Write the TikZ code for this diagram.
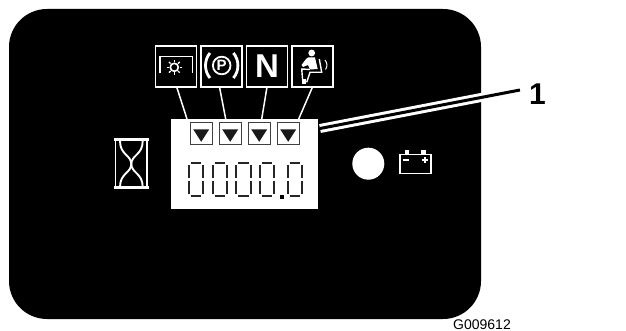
\documentclass[tikz,border=0pt]{standalone}
\usepackage{fontspec}
\setmainfont{Liberation Sans}
\usetikzlibrary{arrows.meta, positioning, calc}

\begin{document}
\begin{tikzpicture}[
            x=1pt,
            y=-1pt,
            panel/.style={
                    fill=black,
                    rounded corners=38pt
                },
            iconbox/.style={
                    draw=white,
                    line width=1.9pt,
                    fill=black,
                    minimum size=41pt,
                    inner sep=0pt,
                    outer sep=0pt,
                    text=white,
                    font=\bfseries\fontsize{33}{33}\selectfont
                },
            wire/.style={
                    draw=white,
                    line width=1.5pt
                },
            lcd/.style={
                    fill=white,
                    minimum width=147pt,
                    minimum height=90pt,
                    inner sep=0pt,
                    outer sep=0pt
                },
            flagbox/.style={
                    draw=black!75,
                    line width=1.4pt,
                    fill=white,
                    minimum size=22pt,
                    inner sep=0pt,
                    outer sep=0pt
                },
            glyph/.style={
                    draw=white,
                    line width=1.6pt
                },
            segment/.style={
                    draw=black!85,
                    line width=1.9pt
                }
        ]

        \useasboundingbox (0,0) rectangle (626,331);
        \fill[white] (0,0) rectangle (626,331);

        \node[panel, minimum width=472pt, minimum height=310pt, inner sep=0pt] (board) at (245,164) {};

        \node[lcd] (display) at (244.5,164) {};

        \node[iconbox] (work) at (176,66.5) {};
        \node[iconbox, right=4.5pt of work] (brake) {};
        \node[iconbox, right=4.5pt of brake] (neutral) {\raisebox{1.5pt}{N}};
        \node[iconbox, right=4.5pt of neutral] (seat) {};

        \node[flagbox] (flaga) at (201.2,133.8) {};
        \node[flagbox, right=7pt of flaga] (flagb) {};
        \node[flagbox, right=7pt of flagb] (flagc) {};
        \node[flagbox, right=7pt of flagc] (flagd) {};

        \foreach \flag in {flaga, flagb, flagc, flagd} {
                \fill[black!90] ([shift={(-8pt,4.5pt)}]\flag.center) -- ([shift={(8pt,4.5pt)}]\flag.center) -- ([shift={(0pt,-8pt)}]\flag.center) -- cycle;
            }

        \draw[wire] ([xshift=0.7pt]work.south) -- ([xshift=16pt]display.north west);
        \draw[wire] ([xshift=-2pt]brake.south) -- ([xshift=54.7pt]display.north west);
        \draw[wire] (neutral.south) -- ([xshift=90.7pt]display.north west);
        \draw[wire] (seat.south) -- ([xshift=127.7pt]display.north west);

        \foreach \digitx in {187.7, 211.7, 235.3, 258.7, 286.7} {
                \draw[segment] (\digitx+3,162.7) -- (\digitx+13.6,162.7);
                \draw[segment] (\digitx+3,196.3) -- (\digitx+13.6,196.3);
                \draw[segment] (\digitx+1,165) -- (\digitx+1,178);
                \draw[segment] (\digitx+1,181) -- (\digitx+1,194);
                \draw[segment] (\digitx+15.6,165) -- (\digitx+15.6,178);
                \draw[segment] (\digitx+15.6,181) -- (\digitx+15.6,194);
            }
        \fill[black] (280,195) rectangle (284,199);

        \draw[glyph] (160,73.5) -- (160,56.7) -- (192.3,56.7) -- (192.3,73.5);
        \draw[glyph] (174.3,67.3) circle (4);
        \foreach \ang in {0,45,...,315} {
                \draw[white, line width=1.3pt] ($(174.3,67.3)+(\ang:5.2)$) -- ($(174.3,67.3)+(\ang:7.6)$);
            }

        \draw[white, line width=1.8pt] (221.7,65.5) circle (8.8);
        \node[text=white, font=\bfseries\fontsize{15}{15}\selectfont, inner sep=0pt] (parkp) at (221.7,65.5) {P};
        \draw[white, line width=2.8pt] (210,53) .. controls (204,60) and (204,71) .. (210,78);
        \draw[white, line width=2.8pt] (233.4,53) .. controls (239.4,60) and (239.4,71) .. (233.4,78);

        \fill[white] (311.7,53) circle (3.4);
        \fill[white] (306,59) -- (308,57.5) -- (315,57.5) -- (317.7,69) -- (310,69.5) -- (308,65) -- (303,67) -- (301.5,65) -- cycle;
        \draw[white, line width=1.4pt] (319.3,59) -- (321.7,72.3) -- (310,72.3) -- (306.7,82.3);
        \draw[white, line width=1.4pt] (310,69.5) -- (301.7,69) -- (302.7,80.7);
        \fill[white] (301.5,79) rectangle (306,84);
        \draw[white, line width=1pt] (325,60) .. controls (327.5,63) and (327.5,67) .. (325.5,69.5);

        \node[inner sep=0pt, outer sep=0pt, minimum size=0pt] (hourglass) at (131.3,164) {};
        \draw[white, line width=3pt] (114,140) -- (148.7,140);
        \draw[white, line width=3pt] (114,188) -- (148.7,188);
        \draw[white, line width=1.4pt] (115.7,140) -- (115.7,188);
        \draw[white, line width=1.4pt] (147,140) -- (147,188);
        \draw[white, line width=1.9pt] (120,141) .. controls (120,155) and (131.3,155) .. (131.3,164) .. controls (131.3,173) and (120,173) .. (120,187);
        \draw[white, line width=1.9pt] (142.7,141) .. controls (142.7,155) and (131.3,155) .. (131.3,164) .. controls (131.3,173) and (142.7,173) .. (142.7,187);

        \node[circle, fill=white, minimum size=32pt, inner sep=0pt] (lamp) at (368.3,163.7) {};

        \node[draw=white, line width=1.5pt, fill=black, minimum width=31pt, minimum height=19pt, inner sep=0pt] (battery) at (415.3,164) {};
        \fill[white] (405,150) rectangle (409,154);
        \fill[white] (421,150) rectangle (425.7,154);
        \draw[white, line width=1.4pt] (403,160) -- (409,160);
        \draw[white, line width=1.4pt] (422,160) -- (428,160) (425,157) -- (425,163);

        \node[font=\bfseries\fontsize{30}{30}\selectfont, inner sep=0pt] (num) at (537.5,94) {1};
        \coordinate (leadstart) at (320,128.5);

        \draw[white, line width=9pt] (leadstart) -- ([xshift=-9pt, yshift=4pt]num.west);
        \draw[black, line width=3pt] (leadstart) -- ([xshift=-9pt, yshift=4pt]num.west);

        \node[font=\fontsize{14}{14}\selectfont, inner sep=0pt, anchor=base west] (figcode) at (453,329.5) {G009612};
    \end{tikzpicture}
\end{document}
